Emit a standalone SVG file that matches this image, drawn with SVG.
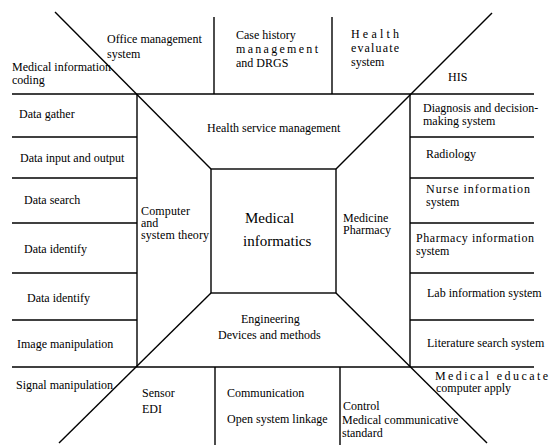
<svg xmlns="http://www.w3.org/2000/svg" width="549" height="445" viewBox="0 0 549 445">
  <style>
    .ln { stroke: #000; stroke-width: 1.4; fill: none; }
    text { font-family: "Liberation Serif", "Times New Roman", serif; font-size: 12px; fill: #000; }
    .big { font-size: 15px; }
    .tight { font-size: 10.5px; }
  </style>
  <rect x="0" y="0" width="549" height="445" fill="#fff"/>

  <!-- frame lines -->
  <g id="connectors">
    <!-- outer horizontals -->
    <line class="ln" x1="12" y1="94" x2="534" y2="94"/>
    <line class="ln" x1="12" y1="367" x2="534" y2="367"/>
    <!-- column boundaries -->
    <line class="ln" x1="137" y1="94" x2="137" y2="367"/>
    <line class="ln" x1="410" y1="94" x2="410" y2="367"/>
    <!-- left column rows -->
    <line class="ln" x1="12" y1="137" x2="137" y2="137"/>
    <line class="ln" x1="12" y1="178" x2="137" y2="178"/>
    <line class="ln" x1="12" y1="223" x2="137" y2="223"/>
    <line class="ln" x1="12" y1="273" x2="137" y2="273"/>
    <line class="ln" x1="12" y1="320" x2="137" y2="320"/>
    <!-- right column rows -->
    <line class="ln" x1="410" y1="137" x2="534" y2="137"/>
    <line class="ln" x1="410" y1="178" x2="534" y2="178"/>
    <line class="ln" x1="410" y1="223" x2="534" y2="223"/>
    <line class="ln" x1="410" y1="273" x2="534" y2="273"/>
    <line class="ln" x1="410" y1="320" x2="534" y2="320"/>
    <!-- top and bottom dividers -->
    <line class="ln" x1="214" y1="17" x2="214" y2="94"/>
    <line class="ln" x1="332" y1="17" x2="332" y2="94"/>
    <line class="ln" x1="215" y1="367" x2="215" y2="445"/>
    <line class="ln" x1="340" y1="367" x2="340" y2="445"/>
    <!-- diagonals -->
    <line class="ln" x1="55" y1="12" x2="211" y2="169"/>
    <line class="ln" x1="492" y1="13" x2="336" y2="169"/>
    <line class="ln" x1="59" y1="443" x2="211" y2="293"/>
    <line class="ln" x1="487" y1="443" x2="336" y2="293"/>
  </g>

  <!-- centre square -->
  <g id="core">
    <rect class="ln" x="211" y="169" width="125" height="124"/>
    <text class="big" x="245" y="223">Medical</text>
    <text class="big" x="243" y="246">informatics</text>
  </g>

  <g id="health-service">
    <text x="207" y="132">Health service management</text>
  </g>
  <g id="computer" class="tight">
    <text x="141" y="215" textLength="49">Computer</text>
    <text x="141" y="227">and</text>
    <text x="141" y="239" textLength="68">system theory</text>
  </g>
  <g id="medicine">
    <text x="343" y="222">Medicine</text>
    <text x="343" y="234">Pharmacy</text>
  </g>
  <g id="engineering">
    <text x="241" y="323">Engineering</text>
    <text x="218" y="339">Devices and methods</text>
  </g>

  <!-- top band -->
  <g id="coding">
    <text x="12" y="71">Medical information</text>
    <text x="12" y="84">coding</text>
  </g>
  <g id="office">
    <text x="107" y="43">Office management</text>
    <text x="107" y="58">system</text>
  </g>
  <g id="case-history">
    <text x="236" y="39">Case history</text>
    <text x="236" y="53" textLength="82" lengthAdjust="spacing">management</text>
    <text x="236" y="67">and DRGS</text>
  </g>
  <g id="health-evaluate">
    <text x="351" y="38" textLength="48" lengthAdjust="spacing">Health</text>
    <text x="351" y="52" textLength="48" lengthAdjust="spacing">evaluate</text>
    <text x="351" y="66">system</text>
  </g>
  <g id="his">
    <text x="448" y="81">HIS</text>
  </g>

  <!-- left column -->
  <g id="data-gather"><text x="19" y="118">Data gather</text></g>
  <g id="data-io"><text x="20" y="162">Data input and output</text></g>
  <g id="data-search"><text x="24" y="204">Data search</text></g>
  <g id="data-identify-1"><text x="24" y="253">Data identify</text></g>
  <g id="data-identify-2"><text x="27" y="302">Data identify</text></g>
  <g id="image"><text x="17" y="348">Image manipulation</text></g>

  <!-- right column -->
  <g id="diagnosis">
    <text x="423" y="112">Diagnosis and decision-</text>
    <text x="423" y="125">making system</text>
  </g>
  <g id="radiology"><text x="426" y="158">Radiology</text></g>
  <g id="nurse">
    <text x="426" y="193" textLength="104" lengthAdjust="spacing">Nurse information</text>
    <text x="426" y="206">system</text>
  </g>
  <g id="pharmacy">
    <text x="416" y="242" textLength="118" lengthAdjust="spacing">Pharmacy information</text>
    <text x="416" y="255">system</text>
  </g>
  <g id="lab"><text x="427" y="297">Lab information system</text></g>
  <g id="literature"><text x="427" y="347">Literature search system</text></g>

  <!-- bottom band -->
  <g id="signal"><text x="16" y="389">Signal manipulation</text></g>
  <g id="sensor">
    <text x="142" y="397">Sensor</text>
    <text x="142" y="413">EDI</text>
  </g>
  <g id="communication">
    <text x="227" y="397">Communication</text>
    <text x="227" y="423">Open system linkage</text>
  </g>
  <g id="control">
    <text x="343" y="410">Control</text>
    <text x="342" y="424">Medical communicative</text>
    <text x="342" y="437">standard</text>
  </g>
  <g id="education" class="tight">
    <text x="435" y="380" textLength="113" lengthAdjust="spacing">Medical educate</text>
    <text x="436" y="392" textLength="75">computer apply</text>
  </g>
</svg>
